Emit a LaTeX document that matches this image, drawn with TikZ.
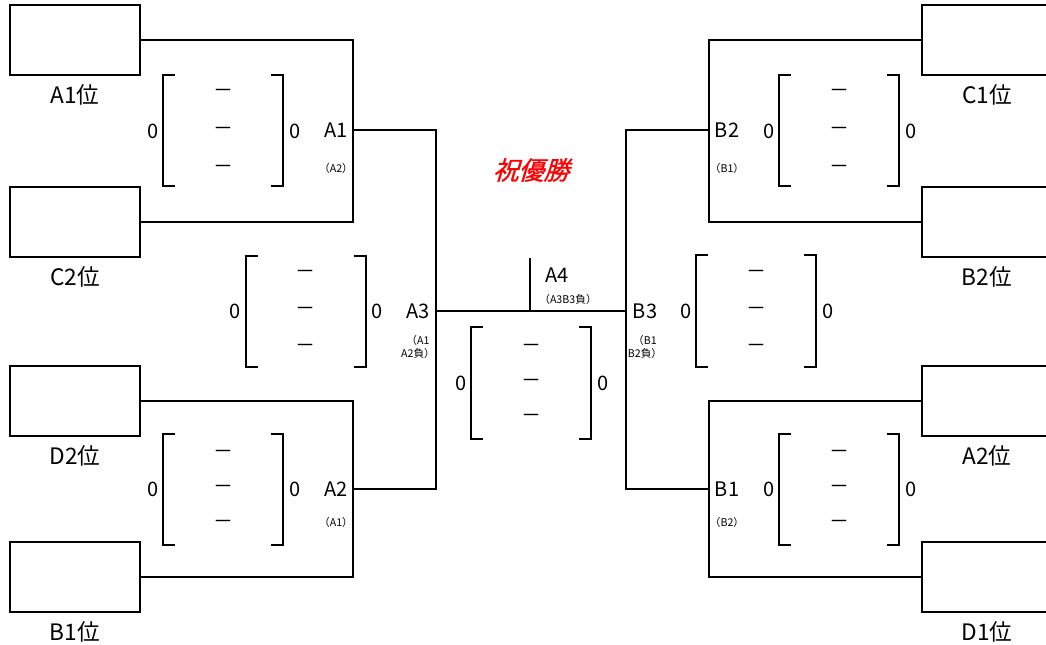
\documentclass[tikz,border=0pt]{standalone}
\usepackage{fontspec}
\setmainfont{Noto Sans CJK JP}
\newfontfamily\slantfont[FakeSlant=0.3,FakeBold=1.2]{Noto Sans CJK JP}

\begin{document}
\begin{tikzpicture}[x=0.75pt,y=-0.75pt,line width=1.5pt]
  \tikzstyle{team}=[draw,minimum width=97.5pt,minimum height=52.5pt,inner sep=0pt]
  \tikzstyle{seed}=[font=\fontsize{17}{17}\selectfont,inner sep=0pt]
  \tikzstyle{game}=[font=\fontsize{15}{15}\selectfont,inner sep=0pt]
  \tikzstyle{note}=[font=\fontsize{8}{10}\selectfont,align=center,inner sep=0pt]
  \useasboundingbox (0,0) rectangle (1046,645);
  \clip (0,0) rectangle (1046,645);
  % team slots and their seed labels
  \foreach \name/\lab/\x/\y in {a1/A1位/75/40,c2/C2位/75/222,d2/D2位/75/401,b1/B1位/75/577,
                                c1/C1位/987/40,b2/B2位/987/222,a2/A2位/987/401,d1/D1位/987/577}{
    \node[team] (T-\name) at (\x,\y) {};
    \node[seed] (L-\name) at (\x,\y+55) {\lab};
  }
  % joints of the bracket
  \coordinate (J-a1) at (353,130);
  \coordinate (J-a2) at (353,489);
  \coordinate (J-a3) at (436,311);
  \coordinate (J-b3) at (626,311);
  \coordinate (J-b2) at (709,130);
  \coordinate (J-b1) at (709,489);
  \coordinate (J-a4) at (530,311);
  \coordinate (J-top) at (530,258);
  \draw (T-a1.east) -| (J-a1) |- (T-c2.east);
  \draw (T-d2.east) -| (J-a2) |- (T-b1.east);
  \draw (J-a1) -| (J-a3) |- (J-a2);
  \draw (T-c1.west) -| (J-b2) |- (T-b2.west);
  \draw (T-a2.west) -| (J-b1) |- (T-d1.west);
  \draw (J-b2) -| (J-b3) |- (J-b1);
  \draw (J-a3) -- (J-b3);
  \draw (J-a4) -- (J-top);
  % score brackets
  \foreach \name/\cx/\cy/\d in {s1/223/131/38,s2/305.5/311.5/37,s3/223/489/35,s4/531/383/35,
                                s5/756/311/37,s6/839/131/38,s7/839/489/35}{
    \draw (\cx-48,\cy-55.5) -| (\cx-60,\cy+55.5) -- (\cx-48,\cy+55.5);
    \draw (\cx+48,\cy-55.5) -| (\cx+60,\cy+55.5) -- (\cx+48,\cy+55.5);
    \node[game] (\name-l) at (\cx-70,\cy) {0};
    \node[game] (\name-r) at (\cx+72,\cy) {0};
    \foreach \i/\k in {1/-1,2/0,3/1}
      \node[game] (\name-\i) at (\cx,\cy+\d*\k) {－};
  }
  % match labels
  \node[game] (G-a1) at (336,130) {A1};
  \node[note] (N-a1) at (336,168) {（A2）};
  \node[game] (G-a2) at (336,489) {A2};
  \node[note] (N-a2) at (336,522) {（A1）};
  \node[game] (G-a3) at (418,311) {A3};
  \node[note] (N-a3) at (418,347) {（A1\\A2負）};
  \node[game] (G-a4) at (557,275) {A4};
  \node[note] (N-a4) at (568,299) {（A3B3負）};
  \node[game] (G-b3) at (645,311) {B3};
  \node[note] (N-b3) at (645,347) {（B1\\B2負）};
  \node[game] (G-b2) at (727,130) {B2};
  \node[note] (N-b2) at (727,168) {（B1）};
  \node[game] (G-b1) at (727,489) {B1};
  \node[note] (N-b1) at (727,522) {（B2）};
  \node[text=red,font=\slantfont\fontsize{19}{19}\selectfont] (title) at (531,170) {祝優勝};
\end{tikzpicture}
\end{document}
